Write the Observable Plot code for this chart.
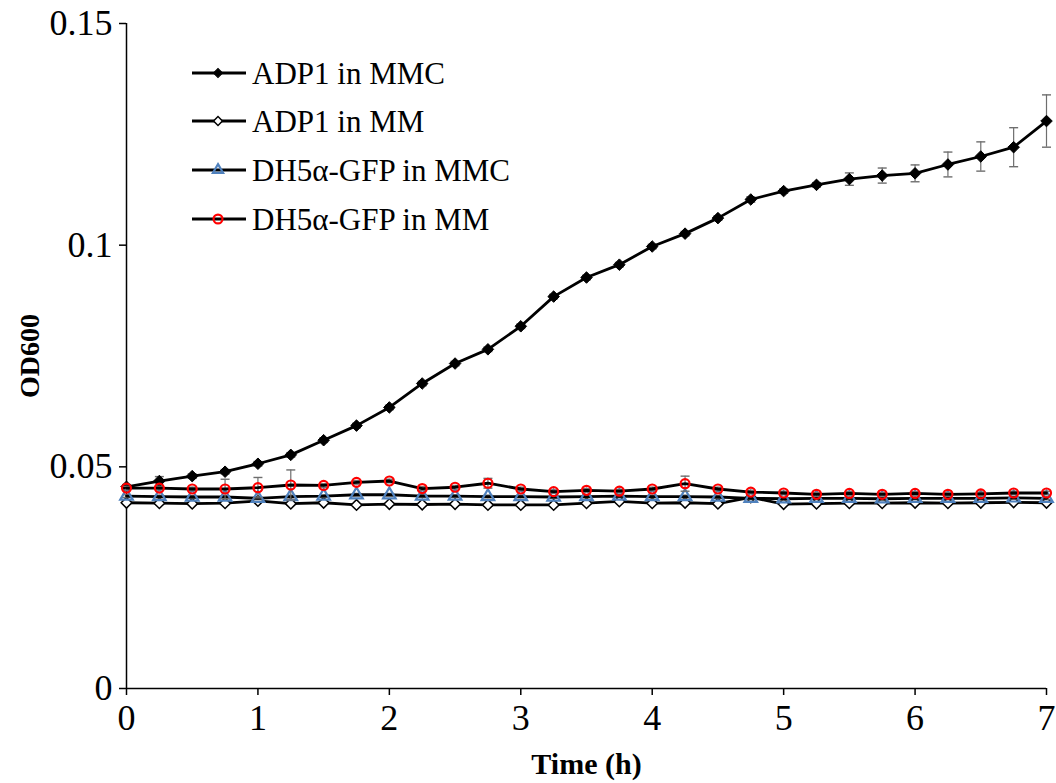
<!DOCTYPE html>
<html>
<head>
<meta charset="utf-8">
<script src="https://cdn.jsdelivr.net/npm/d3@7"></script>
<script src="https://cdn.jsdelivr.net/npm/@observablehq/plot@0.6"></script>
<style>
  body { margin: 0; background: white; }
  #wrap { position: relative; width: 1056px; height: 783px; }
  #legend { position: absolute; left: 0; top: 0; }
</style>
</head>
<body>
<div id="wrap"><svg id="legend" width="560" height="260"></svg></div>
<script>
const times = [0,0.25,0.5,0.75,1,1.25,1.5,1.75,2,2.25,2.5,2.75,3,3.25,3.5,3.75,4,4.25,4.5,4.75,5,5.25,5.5,5.75,6,6.25,6.5,6.75,7];

const seriesNames = ["ADP1 in MMC", "ADP1 in MM", "DH5α-GFP in MMC", "DH5α-GFP in MM"];

const adp1MMC = [0.0455,0.0468,0.0479,0.0489,0.0507,0.0527,0.0560,0.0593,0.0634,0.0688,0.0733,0.0765,0.0817,0.0884,0.0927,0.0956,0.0997,0.1026,0.1061,0.1103,0.1122,0.1136,0.1149,0.1157,0.1162,0.1182,0.1200,0.1221,0.1280];
const adp1MMCerr = [0.0005,0.0010,0.0005,0.0005,0.0005,0.0005,0.0005,0.0005,0.0005,0.0005,0.0005,0.0005,0.0005,0.0005,0.0005,0.0005,0.0005,0.0005,0.0005,0.0006,0.0005,0.0005,0.0014,0.0017,0.0019,0.0028,0.0033,0.0044,0.0059];

const adp1MM = [0.0419,0.0418,0.0417,0.0418,0.0423,0.0417,0.0419,0.0414,0.0416,0.0415,0.0416,0.0414,0.0414,0.0414,0.0418,0.0422,0.0418,0.0419,0.0417,0.0431,0.0416,0.0417,0.0418,0.0418,0.0419,0.0418,0.0419,0.0420,0.0419];
const adp1MMerr = [0.0003,0.0003,0.0003,0.0003,0.0003,0.0003,0.0003,0.0003,0.0003,0.0003,0.0003,0.0003,0.0003,0.0003,0.0003,0.0003,0.0003,0.0003,0.0003,0.0003,0.0003,0.0003,0.0003,0.0003,0.0003,0.0003,0.0003,0.0003,0.0003];

const dh5MMC = [0.0434,0.0433,0.0432,0.0432,0.0429,0.0433,0.0434,0.0437,0.0437,0.0434,0.0434,0.0433,0.0433,0.0432,0.0433,0.0434,0.0433,0.0433,0.0432,0.0429,0.0428,0.0429,0.0429,0.0428,0.0429,0.0429,0.0429,0.0430,0.0429];
const dh5MMCerr = [0.0003,0.0003,0.0003,0.0003,0.0003,0.0003,0.0003,0.0003,0.0003,0.0003,0.0003,0.0003,0.0003,0.0003,0.0003,0.0003,0.0003,0.0003,0.0003,0.0003,0.0003,0.0003,0.0003,0.0003,0.0003,0.0003,0.0003,0.0003,0.0003];

const dh5MM = [0.0452,0.0452,0.0450,0.0450,0.0453,0.0459,0.0458,0.0465,0.0468,0.0451,0.0454,0.0463,0.0450,0.0444,0.0447,0.0445,0.0450,0.0462,0.0450,0.0443,0.0441,0.0438,0.0440,0.0438,0.0440,0.0438,0.0439,0.0441,0.0441];
const dh5MMerr = [0.0004,0.0004,0.0004,0.0022,0.0023,0.0034,0.0004,0.0004,0.0004,0.0004,0.0004,0.0011,0.0004,0.0004,0.0004,0.0004,0.0004,0.0017,0.0004,0.0004,0.0004,0.0004,0.0004,0.0004,0.0004,0.0004,0.0004,0.0004,0.0004];

const xTicks = [0,1,2,3,4,5,6,7];
const yTicks = [0,0.05,0.1,0.15];
const yTickLabels = ["0","0.05","0.1","0.15"];

const FONT = "Liberation Serif, Times New Roman, serif";

function rows(vals, errs) {
  return times.map((t, i) => ({t, v: vals[i], e: errs[i]}));
}
const dA = rows(adp1MMC, adp1MMCerr);
const dB = rows(adp1MM, adp1MMerr);
const dC = rows(dh5MMC, dh5MMCerr);
const dD = rows(dh5MM, dh5MMerr);

const capSymbol = { draw(ctx) { ctx.moveTo(-4.5, 0); ctx.lineTo(4.5, 0); } };
const errColor = "#6e6e6e";

function errMarks(d) {
  return [
    Plot.ruleX(d, {x: "t", y1: r => r.v - r.e, y2: r => r.v + r.e, stroke: errColor, strokeWidth: 1.2}),
    Plot.dot(d, {x: "t", y: r => r.v + r.e, symbol: capSymbol, stroke: errColor, strokeWidth: 1.4, r: 4}),
    Plot.dot(d, {x: "t", y: r => r.v - r.e, symbol: capSymbol, stroke: errColor, strokeWidth: 1.4, r: 4})
  ];
}

const LW = 2.8;

const chart = Plot.plot({
  width: 1056,
  height: 783,
  marginLeft: 126,
  marginRight: 10,
  marginTop: 23,
  marginBottom: 95,
  style: {fontFamily: FONT, fontSize: "36px", color: "black", background: "white", overflow: "visible"},
  x: {domain: [0, 7]},
  y: {domain: [0, 0.15]},
  marks: [
    Plot.axisY({ticks: yTicks, tickFormat: d => yTickLabels[yTicks.indexOf(d)], tickSize: 7, tickPadding: 7, label: null, fontSize: 36, strokeWidth: 1.5}),
    Plot.axisX({ticks: xTicks, tickFormat: d => String(d), tickSize: 7, tickPadding: 9, label: null, fontSize: 36, strokeWidth: 1.5}),
    Plot.ruleX([0], {stroke: "black", strokeWidth: 1.5}),
    Plot.ruleY([0], {stroke: "black", strokeWidth: 1.5}),
    Plot.text(["OD600"], {frameAnchor: "left", rotate: -90, dx: -96, textAnchor: "middle", lineAnchor: "middle", fontWeight: "bold", fontSize: 28}),
    Plot.text(["Time (h)"], {frameAnchor: "bottom", dy: 76, textAnchor: "middle", lineAnchor: "middle", fontWeight: "bold", fontSize: 30}),
    // ADP1 in MMC
    ...errMarks(dA),
    Plot.line(dA, {x: "t", y: "v", stroke: "black", strokeWidth: LW}),
    Plot.dot(dA, {x: "t", y: "v", symbol: "diamond2", r: 5.2, fill: "black", stroke: "black", strokeWidth: 1}),
    // ADP1 in MM
    ...errMarks(dB),
    Plot.line(dB, {x: "t", y: "v", stroke: "black", strokeWidth: LW}),
    Plot.dot(dB, {x: "t", y: "v", symbol: "diamond2", r: 4.8, fill: "white", stroke: "black", strokeWidth: 1.5}),
    // DH5a-GFP in MMC
    ...errMarks(dC),
    Plot.line(dC, {x: "t", y: "v", stroke: "black", strokeWidth: LW}),
    Plot.dot(dC, {x: "t", y: "v", symbol: "triangle2", r: 6, fill: "none", stroke: "#4f81bd", strokeWidth: 2.2}),
    // DH5a-GFP in MM
    ...errMarks(dD),
    Plot.line(dD, {x: "t", y: "v", stroke: "black", strokeWidth: LW}),
    Plot.dot(dD, {x: "t", y: "v", symbol: "circle", r: 4.5, fill: "none", stroke: "#ff0000", strokeWidth: 2.2})
  ]
});
document.getElementById("wrap").prepend(chart);

// Legend
const legendSymbols = [
  {sym: d3.symbolSquare, rot: 45, size: 42, fill: "black", stroke: "black", sw: 1},
  {sym: d3.symbolSquare, rot: 45, size: 40, fill: "white", stroke: "black", sw: 1.5},
  {sym: d3.symbolTriangle2, rot: 0, size: 75, fill: "none", stroke: "#4f81bd", sw: 2.2},
  {sym: d3.symbolCircle, rot: 0, size: 62, fill: "none", stroke: "#ff0000", sw: 2.2}
];
const legendRows = [73, 121, 170, 219];
const lg = d3.select("#legend");
seriesNames.forEach((name, i) => {
  const y = legendRows[i];
  const g = lg.append("g").attr("transform", `translate(0,${y})`);
  g.append("line").attr("x1", 192).attr("x2", 246).attr("y1", 0).attr("y2", 0).attr("stroke", "black").attr("stroke-width", LW);
  const s = legendSymbols[i];
  g.append("path").attr("d", d3.symbol(s.sym, s.size)())
    .attr("transform", `translate(218,0) rotate(${s.rot})`)
    .attr("fill", s.fill).attr("stroke", s.stroke).attr("stroke-width", s.sw);
  g.append("text").attr("x", 252).attr("y", 0).attr("dy", "0.35em")
    .attr("font-family", FONT).attr("font-size", 31).text(name);
});
</script>
</body>
</html>
